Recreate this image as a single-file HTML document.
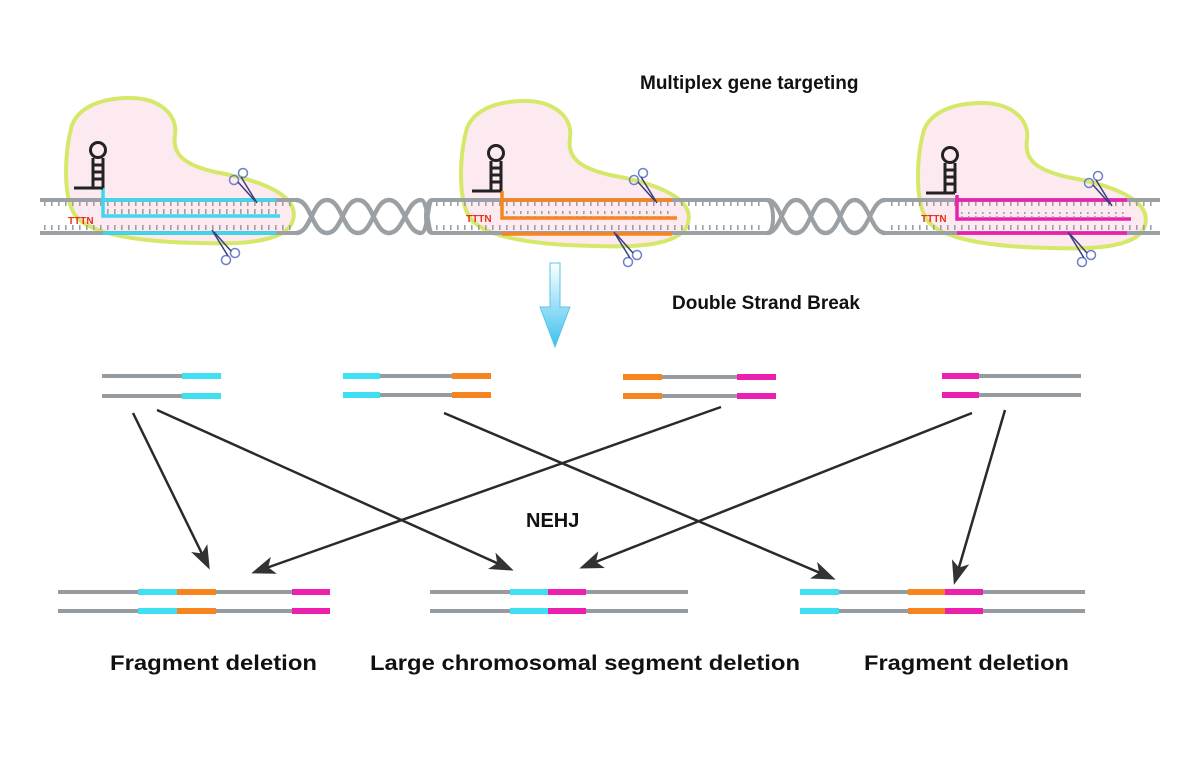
<!DOCTYPE html>
<html><head><meta charset="utf-8"><style>
html,body{margin:0;padding:0;background:#fff;}
svg{display:block;}
text{font-family:"Liberation Sans",Arial,sans-serif;font-weight:bold;fill:#111;}
</style></head><body>
<svg width="1200" height="758" viewBox="0 0 1200 758" xmlns="http://www.w3.org/2000/svg">
<defs>
<pattern id="tkD" width="7" height="8" patternUnits="userSpaceOnUse"><rect x="2" y="0" width="1.6" height="6" fill="#9aa0a4"/></pattern>
<linearGradient id="ag" x1="0" y1="0" x2="0" y2="1"><stop offset="0" stop-color="#ffffff"/><stop offset="1" stop-color="#3cc0ee"/></linearGradient>
<marker id="ah" markerWidth="24" markerHeight="18" refX="20" refY="9" orient="auto" markerUnits="userSpaceOnUse" viewBox="0 0 24 18"><path d="M0,0 L24,9 L0,18 L6,9 Z" fill="#333"/></marker>
<g id="blob"><path d="M130,98 C160,98 178,115 175,135 C172,155 185,165 215,172 C260,180 300,195 293,220 C288,240 250,245 200,243 C140,242 90,235 75,215 C62,195 65,150 72,125 C80,105 105,98 130,98 Z" fill="#fdeaf0" stroke="#d6e86a" stroke-width="4"/></g>
<g id="hairpin" stroke="#222" fill="none" stroke-width="3">
<circle cx="98" cy="150" r="7.5"/>
<line x1="93" y1="158" x2="93" y2="188"/><line x1="103" y1="158" x2="103" y2="188"/>
<line x1="93" y1="165" x2="103" y2="165"/><line x1="93" y1="172" x2="103" y2="172"/><line x1="93" y1="179" x2="103" y2="179"/>
<line x1="74" y1="188" x2="103" y2="188"/>
</g>
<g id="scis" fill="none" stroke="#6f7fc8" stroke-width="1.5"><circle cx="0" cy="0" r="4.5"/><circle cx="-9" cy="7" r="4.5"/><line x1="-2" y1="4" x2="14" y2="30" stroke="#3a3f80"/><line x1="-5" y1="9" x2="12" y2="28" stroke="#3a3f80"/></g>
<g id="helix" fill="none" stroke="#9aa0a4" stroke-width="4.5">
<path d="M0,0 C15,0 16,33 31,33 C46,33 47,0 62,0 C77,0 78,33 93,33 C108,33 110,0 125,0"/>
<path d="M0,33 C15,33 16,0 31,0 C46,0 47,33 62,33 C77,33 78,0 93,0 C108,0 110,33 125,33"/>
</g>
</defs>

<text x="640" y="89" font-size="19">Multiplex gene targeting</text>

<use href="#blob"/>
<use href="#blob" transform="translate(395,3)"/>
<use href="#blob" transform="translate(852,5)"/>

<g stroke="#9aa0a4" stroke-width="4" fill="none">
<line x1="40" y1="200" x2="296" y2="200"/><line x1="40" y1="233" x2="296" y2="233"/>
<path d="M432,200 L767,200 C774,200 776,233 767,233 L432,233 C424,233 424,200 432,200"/>
<line x1="885" y1="200" x2="1160" y2="200"/><line x1="885" y1="233" x2="1160" y2="233"/>
</g>
<use href="#helix" transform="translate(296,200)"/>
<path d="M421,200 C428,200 428,233 432,233 M421,233 C428,233 428,200 432,200" stroke="#9aa0a4" stroke-width="4" fill="none"/>
<use href="#helix" transform="translate(767,200) scale(0.944,1)"/>
<rect x="44" y="202" width="250" height="6" fill="url(#tkD)"/>
<rect x="44" y="225" width="250" height="6" fill="url(#tkD)"/>
<rect x="430" y="202" width="335" height="6" fill="url(#tkD)"/>
<rect x="430" y="225" width="335" height="6" fill="url(#tkD)"/>
<rect x="887" y="202" width="268" height="6" fill="url(#tkD)"/>
<rect x="887" y="225" width="268" height="6" fill="url(#tkD)"/>

<g stroke="#3fd6ef" stroke-width="3.5" fill="none">
<path d="M103,188 L103,216 L280,216"/><line x1="103" y1="200" x2="276" y2="200"/><line x1="103" y1="233" x2="276" y2="233"/>
</g>
<rect x="107" y="209" width="170" height="6" fill="url(#tkD)"/>
<g stroke="#f6841f" stroke-width="3.5" fill="none">
<path d="M502,191 L502,218 L677,218"/><line x1="502" y1="200" x2="672" y2="200"/><line x1="502" y1="234" x2="672" y2="234"/>
</g>
<rect x="506" y="211" width="168" height="6" fill="url(#tkD)"/>
<g stroke="#ec1fae" stroke-width="3.5" fill="none">
<path d="M957,195 L957,219 L1131,219"/><line x1="957" y1="200" x2="1127" y2="200"/><line x1="957" y1="233" x2="1127" y2="233"/>
</g>
<rect x="961" y="212" width="168" height="6" fill="url(#tkD)"/>

<use href="#hairpin"/>
<use href="#hairpin" transform="translate(398,3)"/>
<use href="#hairpin" transform="translate(852,5)"/>
<text x="68" y="224" font-size="10" style="fill:#e8301c">TTTN</text>
<text x="466" y="222" font-size="10" style="fill:#e8301c">TTTN</text>
<text x="921" y="222" font-size="10" style="fill:#e8301c">TTTN</text>

<use href="#scis" transform="translate(243,173)"/>
<use href="#scis" transform="translate(226,260) rotate(180)"/>
<use href="#scis" transform="translate(643,173)"/>
<use href="#scis" transform="translate(628,262) rotate(180)"/>
<use href="#scis" transform="translate(1098,176)"/>
<use href="#scis" transform="translate(1082,262) rotate(180)"/>

<path d="M550,263 L560,263 L560,307 L570,307 L555,347 L540,307 L550,307 Z" fill="url(#ag)" stroke="#58c4ea" stroke-width="1"/>
<text x="672" y="309" font-size="19">Double Strand Break</text>

<g>
<line x1="102" y1="376" x2="182" y2="376" stroke="#959b9f" stroke-width="4"/><line x1="182" y1="376" x2="221" y2="376" stroke="#3fe0f2" stroke-width="6"/>
<line x1="102" y1="396" x2="182" y2="396" stroke="#959b9f" stroke-width="4"/><line x1="182" y1="396" x2="221" y2="396" stroke="#3fe0f2" stroke-width="6"/>
<line x1="343" y1="376" x2="380" y2="376" stroke="#3fe0f2" stroke-width="6"/><line x1="380" y1="376" x2="452" y2="376" stroke="#959b9f" stroke-width="4"/><line x1="452" y1="376" x2="491" y2="376" stroke="#f6841f" stroke-width="6"/>
<line x1="343" y1="395" x2="380" y2="395" stroke="#3fe0f2" stroke-width="6"/><line x1="380" y1="395" x2="452" y2="395" stroke="#959b9f" stroke-width="4"/><line x1="452" y1="395" x2="491" y2="395" stroke="#f6841f" stroke-width="6"/>
<line x1="623" y1="377" x2="662" y2="377" stroke="#f6841f" stroke-width="6"/><line x1="662" y1="377" x2="737" y2="377" stroke="#959b9f" stroke-width="4"/><line x1="737" y1="377" x2="776" y2="377" stroke="#ec1fae" stroke-width="6"/>
<line x1="623" y1="396" x2="662" y2="396" stroke="#f6841f" stroke-width="6"/><line x1="662" y1="396" x2="737" y2="396" stroke="#959b9f" stroke-width="4"/><line x1="737" y1="396" x2="776" y2="396" stroke="#ec1fae" stroke-width="6"/>
<line x1="942" y1="376" x2="979" y2="376" stroke="#ec1fae" stroke-width="6"/><line x1="979" y1="376" x2="1081" y2="376" stroke="#959b9f" stroke-width="4"/>
<line x1="942" y1="395" x2="979" y2="395" stroke="#ec1fae" stroke-width="6"/><line x1="979" y1="395" x2="1081" y2="395" stroke="#959b9f" stroke-width="4"/>
</g>

<g stroke="#2a2a2a" stroke-width="2.5" marker-end="url(#ah)">
<line x1="133" y1="413" x2="208" y2="566"/>
<line x1="157" y1="410" x2="510" y2="569"/>
<line x1="444" y1="413" x2="832" y2="578"/>
<line x1="721" y1="407" x2="255" y2="572"/>
<line x1="972" y1="413" x2="583" y2="567"/>
<line x1="1005" y1="410" x2="955" y2="581"/>
</g>
<text x="526" y="527" font-size="20">NEHJ</text>

<g stroke="#959b9f" stroke-width="4">
<line x1="58" y1="592" x2="330" y2="592"/><line x1="58" y1="611" x2="330" y2="611"/>
<line x1="430" y1="592" x2="688" y2="592"/><line x1="430" y1="611" x2="688" y2="611"/>
<line x1="800" y1="592" x2="1085" y2="592"/><line x1="800" y1="611" x2="1085" y2="611"/>
</g>
<g stroke-width="6">
<line x1="138" y1="592" x2="177" y2="592" stroke="#3fe0f2"/><line x1="177" y1="592" x2="216" y2="592" stroke="#f6841f"/><line x1="292" y1="592" x2="330" y2="592" stroke="#ec1fae"/>
<line x1="138" y1="611" x2="177" y2="611" stroke="#3fe0f2"/><line x1="177" y1="611" x2="216" y2="611" stroke="#f6841f"/><line x1="292" y1="611" x2="330" y2="611" stroke="#ec1fae"/>
<line x1="510" y1="592" x2="548" y2="592" stroke="#3fe0f2"/><line x1="548" y1="592" x2="586" y2="592" stroke="#ec1fae"/>
<line x1="510" y1="611" x2="548" y2="611" stroke="#3fe0f2"/><line x1="548" y1="611" x2="586" y2="611" stroke="#ec1fae"/>
<line x1="800" y1="592" x2="839" y2="592" stroke="#3fe0f2"/><line x1="908" y1="592" x2="945" y2="592" stroke="#f6841f"/><line x1="945" y1="592" x2="983" y2="592" stroke="#ec1fae"/>
<line x1="800" y1="611" x2="839" y2="611" stroke="#3fe0f2"/><line x1="908" y1="611" x2="945" y2="611" stroke="#f6841f"/><line x1="945" y1="611" x2="983" y2="611" stroke="#ec1fae"/>
</g>

<text x="110" y="670" font-size="21.5" textLength="207" lengthAdjust="spacingAndGlyphs">Fragment deletion</text>
<text x="370" y="670" font-size="21.5" textLength="430" lengthAdjust="spacingAndGlyphs">Large chromosomal segment deletion</text>
<text x="864" y="670" font-size="21.5" textLength="205" lengthAdjust="spacingAndGlyphs">Fragment deletion</text>
</svg>
</body></html>
